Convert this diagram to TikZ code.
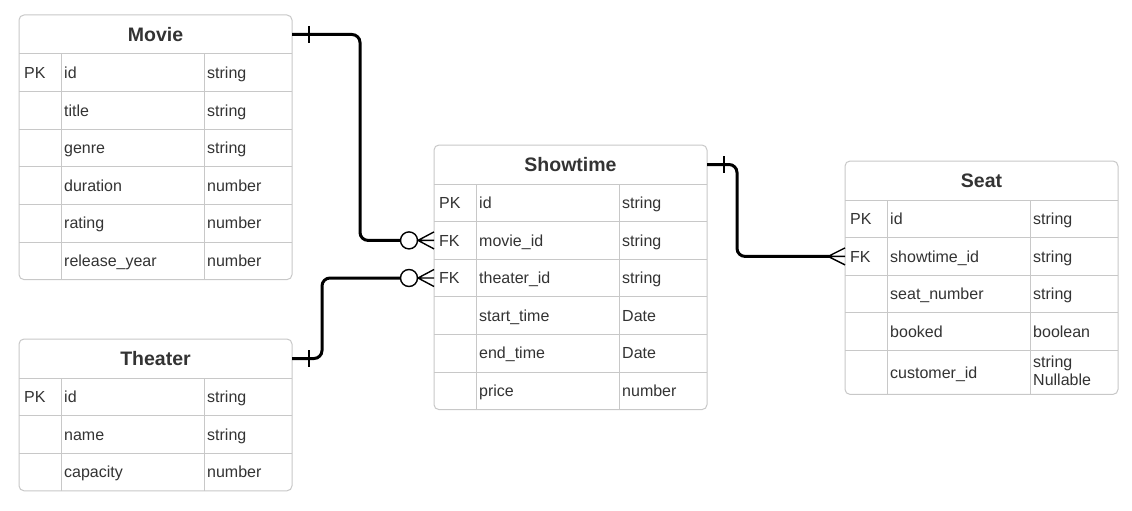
\documentclass[tikz,border=0pt]{standalone}
\usepackage{fontspec}
\setmainfont{Liberation Sans}
\usetikzlibrary{positioning,calc,backgrounds}
\definecolor{erHead}{HTML}{D7D7D7}
\definecolor{erGrid}{HTML}{C8C8C8}
\definecolor{erText}{HTML}{333333}
\newcommand{\erStrut}{\rule[-3.6pt]{0pt}{18.6pt}}

\tikzset{
  erhead/.style={minimum width=273pt,minimum height=39pt,inner sep=0pt,outer sep=0pt,
                 font=\fontsize{19.5}{22}\selectfont\bfseries,text=erText},
  errow/.style={minimum width=273pt,inner sep=0pt,outer sep=0pt},
  ercell/.style={anchor=west,inner sep=0pt,align=left,text=erText,
                 font=\fontsize{16}{18}\selectfont,
                 execute at begin node=\erStrut,execute at end node=\erStrut},
  ergrid/.style={draw=erGrid,line width=1pt},
  relation/.style={line width=3pt,rounded corners=8pt},
  erfoot/.style={line width=1.4pt},
  one/.pic={\draw[erfoot] (17,-8.5) -- (17,8.5);},
  zeromany/.pic={\draw[erfoot,fill=white] (-25,0) circle (8.5pt);
                 \draw[erfoot] (0,-8.5) -- (-16,0) -- (0,8.5) (-16,0) -- (0,0);},
  many/.pic={\draw[erfoot] (0,-8.5) -- (-17,0) -- (0,8.5) (-17,0) -- (0,0);},
}

% table: name, top left corner, title, last row, rows key/field/type/height
\newcommand{\erTable}[5]{%
  \node[erhead,anchor=north west,alias=#1-0] (#1) at (#2) {#3};
  \begin{scope}[on background layer]
    \fill[erHead,rounded corners=5pt] (#1.north west) rectangle (#1.south east);
    \fill[erHead] ([yshift=8pt]#1.south west) rectangle (#1.south east);
  \end{scope}
  \foreach \k/\f/\t/\h [count=\i,remember=\i as \j (initially 0)] in {#5} {
    \node[errow,minimum height=\h pt,below=0pt of #1-\j] (#1-\i) {};
    \draw[ergrid] (#1-\i.north west) -- (#1-\i.north east);
    \draw[ergrid] ([xshift=42pt]#1-\i.north west) -- ([xshift=42pt]#1-\i.south west);
    \draw[ergrid] ([xshift=185pt]#1-\i.north west) -- ([xshift=185pt]#1-\i.south west);
    \node[ercell] (#1-\i-key) at ([xshift=5pt]#1-\i.west) {\k};
    \node[ercell] (#1-\i-field) at ([xshift=45pt]#1-\i.west) {\f};
    \node[ercell] (#1-\i-type) at ([xshift=188pt]#1-\i.west) {\t};
  }
  \draw[ergrid,rounded corners=5pt] (#1.north west) rectangle (#1-#4.south east);
}

\begin{document}
\begin{tikzpicture}[x=1pt,y=-1pt]
  \useasboundingbox[fill=white] (0,0) rectangle (1132,511);

  \erTable{movie}{19,15}{Movie}{6}{PK/id/string/37.6, /title/string/37.6, /genre/string/37.6,
    /duration/number/37.6, /rating/number/37.6, /release\_year/number/37.6}
  \erTable{theater}{19,339}{Theater}{3}{PK/id/string/37.6, /name/string/37.6,
    /capacity/number/37.6}
  \erTable{showtime}{434,145}{Showtime}{6}{PK/id/string/37.6, FK/movie\_id/string/37.6,
    FK/theater\_id/string/37.6, /start\_time/Date/37.6, /end\_time/Date/37.6,
    /price/number/37.6}
  \erTable{seat}{845,161}{Seat}{5}{PK/id/string/37.6, FK/showtime\_id/string/37.6,
    /seat\_number/string/37.6, /booked/boolean/37.6, /customer\_id/string\\Nullable/44}

  % relations
  \draw[relation,shorten >=33.5pt] (movie.east) -- ++(68,0) |- (showtime-2.west);
  \draw[relation,shorten >=33.5pt] (theater.east) -- ++(30,0) |- (showtime-3.west);
  \draw[relation,shorten >=16pt] (showtime.east) -- ++(30,0) |- (seat-2.west);
  \pic at (movie.east) {one};
  \pic at (theater.east) {one};
  \pic at (showtime.east) {one};
  \pic at (showtime-2.west) {zeromany};
  \pic at (showtime-3.west) {zeromany};
  \pic at (seat-2.west) {many};
\end{tikzpicture}
\end{document}
